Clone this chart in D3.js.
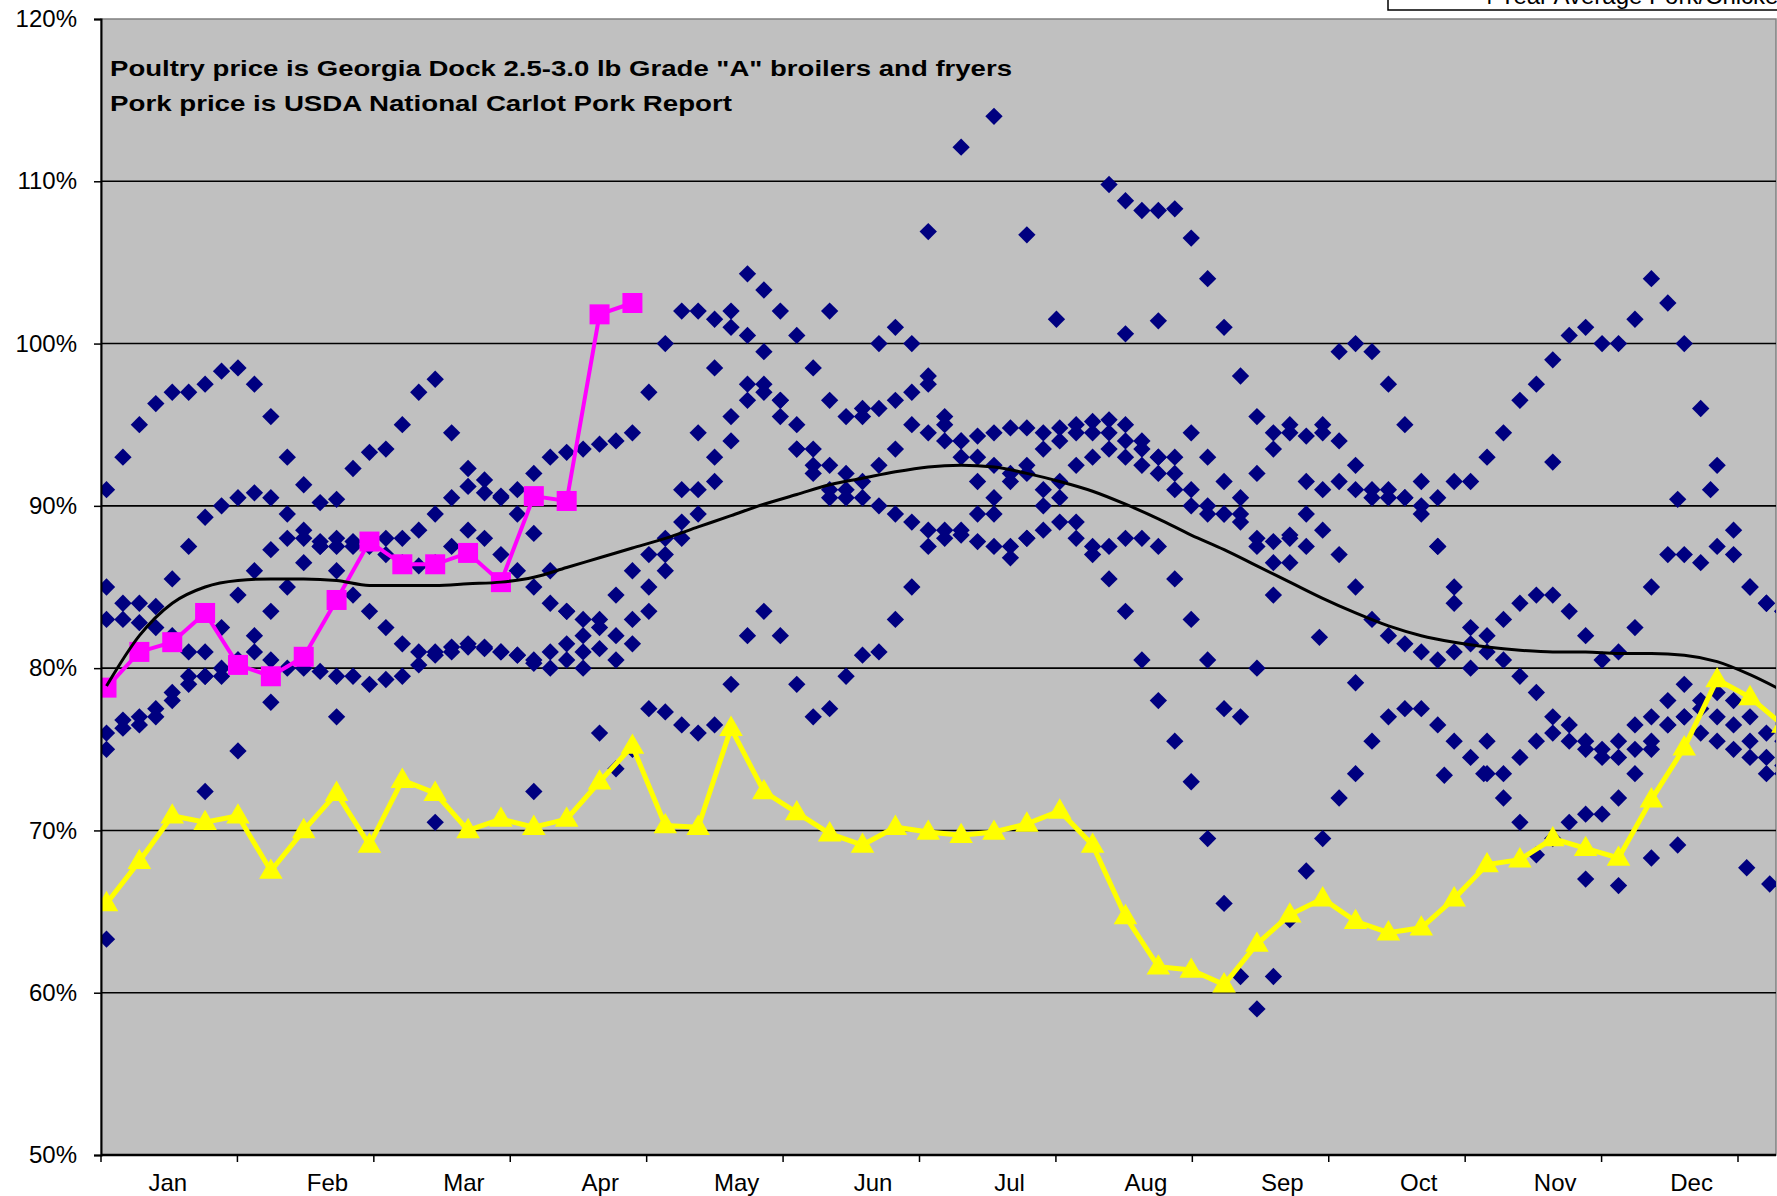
<!DOCTYPE html>
<html lang="en">
<head>
<meta charset="UTF-8">
<title>Pork / Poultry price ratio</title>
<script src="https://d3js.org/d3.v7.min.js"></script>
<style>
    body { margin: 0; padding: 0; background: #ffffff; }
    svg { display: block; font-family: 'Liberation Sans', Arial, sans-serif; }
</style>
</head>
<body>
<div id="chart"></div>
<script>
// month categories on the x axis
var months = ["Jan", "Feb", "Mar", "Apr", "May", "Jun", "Jul", "Aug", "Sep", "Oct", "Nov", "Dec"];
var yTicks = [50, 60, 70, 80, 90, 100, 110, 120];

// daily history, read every half week (index / 2 = week)
var histA = [91, 93, 95, 96.3, 97, 97, 97.5, 98.3, 98.5, 97.5,
    95.5, 93, 91.3, 90.2, 90.4, 92.3, 93.3, 93.5, 95, 97,
    97.8, 94.5, 92.3, 91.6, 90.6, 89.5, 88.3, 86, 83.5, 80,
    76, 73.8, 75, 77.5, 77.3, 76.5, 76, 76.5, 79, 82,
    83.5, 82, 79, 77, 77.5, 79.5, 80.8, 81, 83, 85,
    87.5, 88.5, 88.2, 87.8, 87.5, 86.8, 88, 88.5, 89, 88,
    87, 87.5, 88, 88, 87.5, 85.5, 83, 80.5, 77.5, 77,
    80, 84.5, 88, 91.5, 95, 99.5, 100, 99.5, 97.5, 95,
    91.5, 87.5, 84, 80, 75.5, 72, 70.5, 68.5, 69.5, 70.5,
    71, 71, 72, 73.5, 75, 76.5, 77, 76, 75.5, 75,
    74.5, 73.5, 74];
var histB = [83, 83, 82.8, 82.5, 82, 81, 79.5, 79.5, 80.5, 81,
    80.5, 80, 80, 79.8, 79.5, 79.5, 79, 79.3, 79.5, 80.2,
    80.8, 81, 81.3, 81.2, 81, 80.8, 80.3, 80, 80.5, 81,
    81.2, 80.5, 81.5, 83.5, 86, 88, 89.5, 91.5, 94, 96.5,
    97, 95.5, 93.5, 92.5, 91, 90.5, 91.5, 92.5, 93.5, 95,
    94.5, 94, 94, 94.3, 94.5, 94.8, 94.8, 94.5, 94.8, 95,
    95.2, 95.3, 95, 94, 93, 92, 91, 90, 89.5, 89,
    88, 87.8, 88.2, 89.5, 91, 91.5, 91, 90.5, 91, 90.5,
    89.5, 87.5, 85, 82.5, 81, 80.5, 79.5, 78.5, 77, 75.5,
    75, 74.5, 74.5, 75, 75.5, 76.5, 77, 77.5, 78.5, 78,
    77, 76, 75.5];
var histC = [85, 84, 84, 83.8, 85.5, 87.5, 89.3, 90, 90.5, 90.8,
    90.5, 89.5, 88.5, 87.8, 87.5, 87.5, 87.8, 88, 88, 88.5,
    89.5, 90.5, 91.2, 90.8, 90.5, 91, 92, 93, 93.3, 93.5,
    93.8, 94, 94.5, 97, 100, 102, 102, 101.5, 101, 100.5,
    99.5, 96.5, 93.5, 92, 90.5, 92, 96, 100, 101, 100,
    98, 95, 93, 91.5, 89.5, 87.5, 88, 90, 91.5, 92.5,
    93, 93.5, 93, 92.5, 92, 91, 90, 89.5, 89.5, 90.5,
    92, 93.5, 94.5, 94.3, 94.5, 94, 92.5, 91, 90.5, 90.5,
    90, 90.5, 91.5, 91.5, 93, 94.5, 96.5, 97.5, 99, 100.5,
    101, 100, 100, 101.5, 104, 102.5, 100, 96, 92.5, 88.5,
    85, 84, 83.5];
var histD = [75, 76.3, 76.5, 77, 78, 79.5, 81, 82.5, 84.5, 86,
    87.3, 88, 88, 87.5, 86, 84.5, 83.5, 82.5, 81.5, 81,
    81, 81.3, 81.5, 81.3, 81, 80.8, 80.5, 81, 81.5, 82,
    83, 84.5, 86, 87, 88, 91, 94.5, 98.5, 102, 104.3,
    103.3, 102, 100.5, 98.5, 96.5, 95.5, 95.5, 96, 96.5, 97,
    97.5, 95.5, 94, 93, 92.5, 92, 92, 91, 90.5, 89,
    87.5, 85.5, 83.5, 80.5, 78, 75.5, 73, 69.5, 65.5, 61,
    59, 61, 64.5, 67.5, 69.5, 72, 73.5, 75.5, 77, 77.5,
    77.5, 76.5, 75.5, 74.5, 73.5, 73.5, 74.5, 75.5, 76, 76.5,
    75.5, 75, 75.5, 76.5, 77, 78, 79, 78, 77, 76.5,
    75.5, 74.5, 73.5];
var histE = [76, 76.8, 77, 77.5, 78.5, 79, 79.5, 80, 80.5, 82,
    83.5, 85, 86.5, 87.5, 88, 87.8, 87.5, 87, 86.5, 86.3,
    86.5, 87.5, 88.5, 88, 87, 86, 85, 84, 83.5, 83,
    82.5, 82, 83, 85, 87, 89, 91, 93, 95.5, 97.5,
    97.5, 96.5, 95, 93.5, 92.5, 91, 90.5, 90, 89.5, 89,
    88.5, 88, 88.5, 89.5, 90.5, 91.5, 92.5, 93.5, 94, 94.5,
    94.5, 94.5, 94, 93.5, 93, 93, 94.5, 93, 91.5, 89.5,
    87.5, 86.5, 86.5, 87.5, 88.5, 87, 85, 83, 82, 81.5,
    81, 80.5, 81, 81.5, 82, 83, 84, 84.5, 84.5, 83.5,
    82, 80.5, 81, 82.5, 85, 87, 87, 86.5, 87.5, 87,
    85, 84, 83.5];
// summer spike, only from mid July
var histF = Array(61).fill(null).concat([109.8, 108.8, 108.2, 108.2, 108.3, 106.5, 104, 101, 98, 95.5, 94.5, 95]);
// isolated daily points: [week, value]
var histLoose = [[25, 106.9], [26, 112.1], [27, 114], [28, 106.7], [28.9, 101.5], [22, 102], [31, 100.6], [32, 101.4],
    [36.9, 81.9], [38, 79.1], [47.8, 90.4], [48.8, 91], [49.9, 67.7], [50.6, 66.7], [47.8, 69.1], [46, 66.6],
    [45, 67], [47, 68.3], [0, 63.3], [3, 72.4], [4, 74.9], [13, 72.4], [10, 70.5], [5, 77.9], [7, 77],
    [40.7, 73.4], [41.9, 73.5], [44, 92.7]];

// weekly series
var average = [78.9, 82, 84, 85, 85.4, 85.5, 85.5, 85.4, 85.1, 85.1,
    85.1, 85.2, 85.3, 85.6, 86.2, 86.8, 87.4, 88, 88.7, 89.4,
    90.1, 90.7, 91.3, 91.7, 92.1, 92.4, 92.5, 92.4, 92, 91.5,
    90.9, 90.1, 89.2, 88.2, 87.3, 86.3, 85.3, 84.3, 83.4, 82.6,
    82, 81.6, 81.3, 81.1, 81, 81, 80.9, 80.9, 80.8, 80.4,
    79.6, 78.6];
var currentYear = [78.8, 81, 81.6, 83.4, 80.2, 79.5, 80.7, 84.2, 87.8, 86.4,
    86.4, 87.1, 85.3, 90.6, 90.3, 101.8, 102.5];
var lastYear = [65.5, 68.1, 70.9, 70.5, 70.9, 67.5, 70, 72.3, 69.1, 73.1,
    72.3, 70, 70.7, 70.2, 70.7, 73, 75.2, 70.3, 70.2, 76.3,
    72.4, 71.1, 69.8, 69.1, 70.2, 69.9, 69.7, 69.9, 70.4, 71.2,
    69.1, 64.7, 61.6, 61.4, 60.5, 63, 64.8, 65.8, 64.4, 63.7,
    64, 65.8, 67.9, 68.2, 69.5, 68.9, 68.3, 71.9, 75.1, 79.3,
    78.2, 76.5];

var W = 1777, H = 1196;
var pLeft = 101, pRight = 1776, pTop = 19, pBottom = 1155;

var svg = d3.select("#chart").append("svg")
    .attr("width", W)
    .attr("height", H);

svg.append("rect").attr("width", W).attr("height", H).attr("fill", "#ffffff");

var y = d3.scaleLinear().domain([50, 120]).range([pBottom, pTop]);
var x = d3.scaleLinear().domain([0, 51]).range([106.5, 106.5 + 51 * 32.87]);
var xm = d3.scaleBand().domain(months).range([101, 1738]);

// legend box, mostly above the picture
svg.append("rect")
    .attr("x", 1388).attr("y", -60)
    .attr("width", 500).attr("height", 70)
    .attr("fill", "#ffffff").attr("stroke", "#000").attr("stroke-width", 1.5);
svg.append("text")
    .attr("x", 1480).attr("y", 4)
    .attr("font-size", 24)
    .text("4 Year Average Pork/Chicken Ratio");

// plot area
svg.append("rect")
    .attr("x", pLeft).attr("y", pTop)
    .attr("width", pRight - pLeft).attr("height", pBottom - pTop)
    .attr("fill", "#c0c0c0").attr("stroke", "#808080").attr("stroke-width", 1.5);

svg.append("g").selectAll("line")
    .data(yTicks.filter(function (d) { return d > 50 && d < 120; }))
    .enter().append("line")
    .attr("x1", pLeft).attr("x2", pRight)
    .attr("y1", function (d) { return y(d); })
    .attr("y2", function (d) { return y(d); })
    .attr("stroke", "#000").attr("stroke-width", 1.6);

var clip = svg.append("clipPath").attr("id", "plotclip");
clip.append("rect").attr("x", pLeft).attr("y", pTop).attr("width", pRight - pLeft).attr("height", pBottom - pTop);
var plot = svg.append("g").attr("clip-path", "url(#plotclip)");

// daily diamonds
var diamond = d3.symbol().type(d3.symbolSquare).size(150);
var pts = [];
[histA, histB, histC, histD, histE, histF].forEach(function (s) {
    s.forEach(function (v, i) { if (v != null) pts.push([i / 2, v]); });
});
histLoose.forEach(function (p) { pts.push(p); });

plot.append("g").selectAll("path")
    .data(pts)
    .enter().append("path")
    .attr("d", diamond)
    .attr("transform", function (d) { return "translate(" + x(d[0]) + "," + y(d[1]) + ") rotate(45)"; })
    .attr("fill", "#000080");

var line = d3.line()
    .x(function (d, i) { return x(i); })
    .y(function (d) { return y(d); });

// last year, yellow triangles
plot.append("path")
    .datum(lastYear)
    .attr("d", line)
    .attr("fill", "none").attr("stroke", "#ffff00").attr("stroke-width", 5);
plot.append("g").selectAll("path")
    .data(lastYear)
    .enter().append("path")
    .attr("d", d3.symbol().type(d3.symbolTriangle).size(240))
    .attr("transform", function (d, i) { return "translate(" + x(i) + "," + (y(d) + 1) + ")"; })
    .attr("fill", "#ffff00");

// current year, pink squares
plot.append("path")
    .datum(currentYear)
    .attr("d", line)
    .attr("fill", "none").attr("stroke", "#ff00ff").attr("stroke-width", 4);
plot.append("g").selectAll("rect")
    .data(currentYear)
    .enter().append("rect")
    .attr("x", function (d, i) { return x(i) - 10; })
    .attr("y", function (d) { return y(d) - 10; })
    .attr("width", 20).attr("height", 20)
    .attr("fill", "#ff00ff");

// multi-year average
plot.append("path")
    .datum(average)
    .attr("d", d3.line()
        .x(function (d, i) { return x(i); })
        .y(function (d) { return y(d); })
        .curve(d3.curveMonotoneX))
    .attr("fill", "none").attr("stroke", "#000").attr("stroke-width", 3);

// notes
var note = svg.append("g").attr("font-weight", "bold").attr("font-size", 22).attr("fill", "#000");
note.append("text").attr("x", 110).attr("y", 76)
    .attr("textLength", 902).attr("lengthAdjust", "spacingAndGlyphs")
    .text('Poultry price is Georgia Dock 2.5-3.0 lb Grade "A" broilers and fryers');
note.append("text").attr("x", 110).attr("y", 111)
    .attr("textLength", 622).attr("lengthAdjust", "spacingAndGlyphs")
    .text("Pork price is USDA National Carlot Pork Report");

// y axis
var yAxis = svg.append("g")
    .attr("transform", "translate(" + pLeft + ",0)")
    .call(d3.axisLeft(y).tickValues(yTicks).tickFormat(function (d) { return d + "%"; }).tickSize(7).tickPadding(17));
yAxis.select(".domain").attr("stroke", "#000").attr("stroke-width", 2);
yAxis.selectAll("line").attr("stroke", "#000").attr("stroke-width", 1.5);
yAxis.selectAll("text").attr("font-size", 24).attr("fill", "#000").attr("font-family", "'Liberation Sans', Arial, sans-serif");

// x axis: month bands, labels sit right of the band middle as in the source
svg.append("line")
    .attr("x1", pLeft).attr("x2", pRight)
    .attr("y1", pBottom).attr("y2", pBottom)
    .attr("stroke", "#000").attr("stroke-width", 2.5);
var bounds = months.map(function (m) { return xm(m); }).concat([xm.range()[1]]);
svg.append("g").selectAll("line")
    .data(bounds)
    .enter().append("line")
    .attr("x1", function (d) { return d; }).attr("x2", function (d) { return d; })
    .attr("y1", pBottom).attr("y2", pBottom + 7)
    .attr("stroke", "#000").attr("stroke-width", 1.5);
svg.append("g").selectAll("text")
    .data(months)
    .enter().append("text")
    .attr("x", function (d, i) { return xm(d) + xm.bandwidth() * (i === 0 ? 0.49 : 0.66); })
    .attr("y", 1191)
    .attr("text-anchor", "middle")
    .attr("font-size", 24)
    .text(function (d) { return d; });
</script>
</body>
</html>
